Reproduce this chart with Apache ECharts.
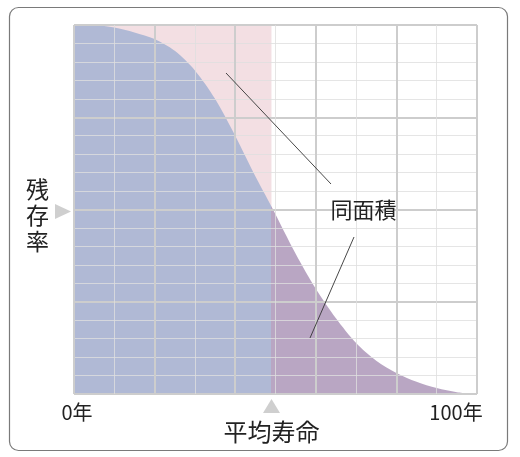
<!DOCTYPE html>
<html><head><meta charset="utf-8">
<script src="https://cdn.jsdelivr.net/npm/echarts@6/dist/echarts.min.js"></script>
<style>html,body{margin:0;padding:0;background:#fff}#c{width:520px;height:457px}</style>
</head><body><div id="c"></div>
<script>
const ageYears = [0,5,10,15,20,25,30,35,40,45,49,55,60,65,70,75,80,85,90,95,100];
const survival = [1.0,0.999,0.993,0.98,0.962,0.93,0.877,0.80,0.70,0.59,0.508,0.38,0.285,0.205,0.138,0.09,0.057,0.033,0.016,0.005,0.0];
const meanLife = 49;
const xTickLabels = {0:'0年',100:'100年'};
const yAxisTitle = ['残','存','率'];
const meanLabel = '平均寿命';
const areaLabel = '同面積';

const pts = ageYears.map((a,i)=>[a,survival[i]]);
const rect = [[0,1],[meanLife,1]];
const split = (meanLife - ageYears[0]) / (ageYears[ageYears.length-1] - ageYears[0]);
const BLUE = '#b0b9d5', PURPLE = '#b9a6c3';

const chart = echarts.init(document.getElementById('c'));
const font = '"Noto Sans CJK JP","Noto Sans",sans-serif';
chart.setOption({
  animation:false,
  grid:{left:74,top:25,right:43,bottom:63},
  xAxis:{type:'value',min:0,max:100,interval:20,z:3,
    axisLine:{show:false},axisTick:{show:false},
    minorTick:{show:false,splitNumber:2},
    splitLine:{show:true,lineStyle:{color:'#cdcdcd',width:2}},
    minorSplitLine:{show:true,lineStyle:{color:'rgba(222,222,222,0.8)',width:1}},
    axisLabel:{show:true,margin:8,fontSize:20,color:'#222',fontFamily:font,
      formatter:v=>xTickLabels[v]!==undefined?(v===0?'{a|'+xTickLabels[v]+'}':'{b|'+xTickLabels[v]+'}'):'',
      rich:{a:{fontSize:20,color:'#222',fontFamily:font,padding:[0,0,0,6]},
            b:{fontSize:20,color:'#222',fontFamily:font,padding:[0,42,0,0]}}}
  },
  yAxis:{type:'value',min:0,max:1,interval:0.25,z:3,
    axisLine:{show:false},axisTick:{show:false},axisLabel:{show:false},
    minorTick:{show:false,splitNumber:5},
    splitLine:{show:true,lineStyle:{color:'#cdcdcd',width:2}},
    minorSplitLine:{show:true,lineStyle:{color:'rgba(222,222,222,0.8)',width:1}}
  },
  series:[
    {type:'line',data:rect,symbol:'none',lineStyle:{width:0},areaStyle:{color:'#f3dfe3',opacity:1},z:1},
    {type:'line',data:pts,symbol:'none',smooth:0.3,lineStyle:{width:0},
      areaStyle:{opacity:1,color:{type:'linear',x:0,y:0,x2:1,y2:0,colorStops:[
        {offset:0,color:BLUE},{offset:split,color:BLUE},{offset:split,color:PURPLE},{offset:1,color:PURPLE}]}},z:2}
  ],
  graphic:[
    {type:'rect',shape:{x:9.5,y:7.5,width:498,height:443,r:9},style:{fill:'none',stroke:'#7a7a7a',lineWidth:1.2},z:0},
    {type:'text',left:26,top:176,style:{text:yAxisTitle.join('\n'),fontSize:23,lineHeight:26,fill:'#222',fontFamily:font}},
    {type:'polygon',shape:{points:[[55,204],[71,211.5],[55,219]]},style:{fill:'#cfcfcf'}},
    {type:'polygon',shape:{points:[[263,413],[271.5,399],[280,413]]},style:{fill:'#cfcfcf'}},
    {type:'text',x:271.5,y:432,style:{text:meanLabel,fontSize:24,fill:'#222',fontFamily:font,align:'center',verticalAlign:'middle'}},
    {type:'text',x:363.5,y:210,style:{text:areaLabel,fontSize:22,fill:'#222',fontFamily:font,align:'center',verticalAlign:'middle'},z:10},
    {type:'line',shape:{x1:226,y1:73,x2:331,y2:184},style:{stroke:'#333',lineWidth:0.9},z:10},
    {type:'line',shape:{x1:354,y1:237,x2:310,y2:338},style:{stroke:'#333',lineWidth:0.9},z:10}
  ]
});
</script></body></html>
